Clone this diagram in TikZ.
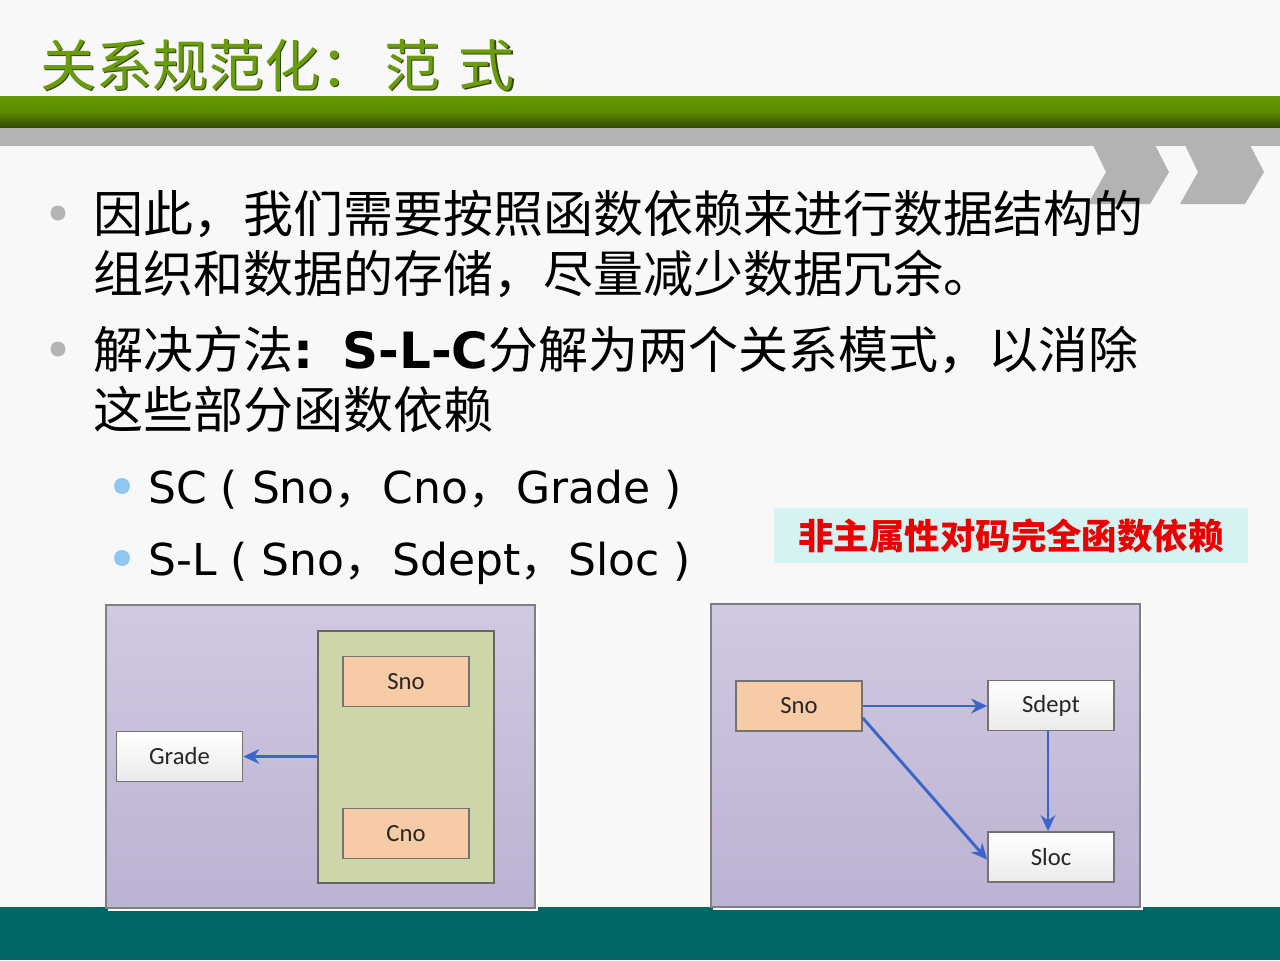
\documentclass[tikz,border=0pt]{standalone}
\usepackage{fontspec}
\setmainfont{DejaVu Sans}
\newfontfamily\cjk{Noto Sans CJK SC}
\newfontfamily\lbl{Carlito}
\usetikzlibrary{arrows.meta}

\definecolor{pagebg}{HTML}{F8F8F8}
\definecolor{bargreen}{HTML}{669900}
\definecolor{bardark}{HTML}{2E4700}
\definecolor{bargrey}{HTML}{B3B3B3}
\definecolor{titlegreen}{HTML}{6A9C0C}
\definecolor{teal}{HTML}{006666}
\definecolor{paneltop}{HTML}{D1C9E1}
\definecolor{panelbot}{HTML}{BCB2D2}
\definecolor{panelline}{HTML}{7F7F7F}
\definecolor{groupfill}{HTML}{CCD6A8}
\definecolor{peach}{HTML}{F7CBA6}
\definecolor{arrowblue}{HTML}{3A66CC}
\definecolor{notefill}{HTML}{D5F3F3}
\definecolor{dotgrey}{HTML}{B4B4B4}
\definecolor{dotblue}{HTML}{8EC8F2}

\tikzset{
  px/.style={x=0.75pt,y=-0.75pt},
  panel/.style={draw=panelline,line width=1.2pt,top color=paneltop,bottom color=panelbot},
  attr/.style={draw=black!55,line width=1.2pt,minimum width=94.5pt,minimum height=37.5pt,
    inner sep=0pt,text=black!85,font=\lbl\fontsize{18.5pt}{22pt}\selectfont},
  keyattr/.style={attr,fill=peach},
  plainattr/.style={attr,top color=white,bottom color=white!92!black},
  fd/.style={draw=arrowblue,line width=2.2pt,-{Stealth[length=12pt,width=11pt]}},
  bodytext/.style={anchor=base west,inner sep=0pt,font=\fontsize{37.5pt}{45pt}\selectfont},
  subtext/.style={anchor=base west,inner sep=0pt,font=\fontsize{33pt}{40pt}\selectfont},
}
\newcommand{\fwcomma}{{\cjk ，}\hspace{3pt}}

\begin{document}
\begin{tikzpicture}[px]
\useasboundingbox (0,0) rectangle (1280,960);
\fill[pagebg] (0,0) rectangle (1280,960);

% header bars
\shade[top color=bargreen,bottom color=bardark,middle color=bargreen!90!black]
  (0,96) rectangle (1280,128);
\fill[bargrey] (0,128) rectangle (1280,146);
% chevrons
\fill[bargrey] (1093,145) -- (1155,145) -- (1169,172) -- (1150,204) -- (1088,204) -- (1106,172) -- cycle;
\fill[bargrey] (1185,145) -- (1250,145) -- (1264,172) -- (1245,204) -- (1180,204) -- (1198,172) -- cycle;

% footer
\fill[teal] (0,907) rectangle (1280,960);

% title
\node[anchor=base west,inner sep=0pt,text=black!55!titlegreen,font=\cjk\fontsize{42pt}{50pt}\selectfont]
  at (41.5,87.5) {关系规范化：\hspace{6pt}范\hspace{14pt}式};
\node[anchor=base west,inner sep=0pt,text=titlegreen,font=\cjk\fontsize{42pt}{50pt}\selectfont]
  (title) at (40,86) {关系规范化：\hspace{6pt}范\hspace{14pt}式};

% bullets
\fill[dotgrey] (58,213) circle (7.5);
\fill[dotgrey] (58,349) circle (7.5);
\node[bodytext] (l1) at (93,232) {\cjk 因此，我们需要按照函数依赖来进行数据结构的};
\node[bodytext] (l2) at (93,292) {\cjk 组织和数据的存储，尽量减少数据冗余。};
\node[bodytext] (l3) at (93,368) {{\cjk 解决方法}{\bfseries :\hspace{22pt}S-L-C}{\cjk 分解为两个关系模式，以消除}};
\node[bodytext] (l4) at (93,428) {\cjk 这些部分函数依赖};

\fill[dotblue] (122,486) circle (8);
\fill[dotblue] (122,558) circle (8);
\node[subtext] (s1) at (148,503) {SC ( Sno\fwcomma Cno\fwcomma Grade )};
\node[subtext] (s2) at (148,575) {S-L ( Sno\fwcomma Sdept\fwcomma Sloc )};

% note
\node[fill=notefill,minimum width=355.5pt,minimum height=41.25pt,inner sep=0pt,
  text=red!92!black,font=\cjk\bfseries\fontsize{26.6pt}{30pt}\selectfont] (note) at (1011,535.5)
  {非主属性对码完全函数依赖};

% left panel: SC
\fill[white] (108,607) rectangle (538,911);
\draw[panel] (106,605) rectangle (535,908);
\node[draw=black!60,line width=1.2pt,fill=groupfill,minimum width=132pt,minimum height=189pt,inner sep=0pt]
  (grp) at (406,757) {};
\node[keyattr] (sno1) at (406,681.5) {Sno};
\node[keyattr] (cno) at (406,833.5) {Cno};
\node[plainattr] (grade) at (179.5,756.5) {Grade};
\draw[fd] (grp.west |- grade.east) -- (grade.east);

% right panel: S-L
\fill[white] (713,606) rectangle (1143,910);
\draw[panel] (711,604) rectangle (1140,907);
\node[keyattr] (sno2) at (799,706) {Sno};
\node[plainattr] (sdept) at (1051,705.5) {Sdept};
\node[plainattr] (sloc) at (1051,857) {Sloc};
\draw[fd] (sno2.east) -- (sdept.west |- sno2.east);
\draw[fd] (sdept.south -| 1048,0) -- (sloc.north -| 1048,0);
\draw[fd] ([yshift=-9pt]sno2.east) -- ([yshift=-2pt]sloc.west);
\end{tikzpicture}
\end{document}
